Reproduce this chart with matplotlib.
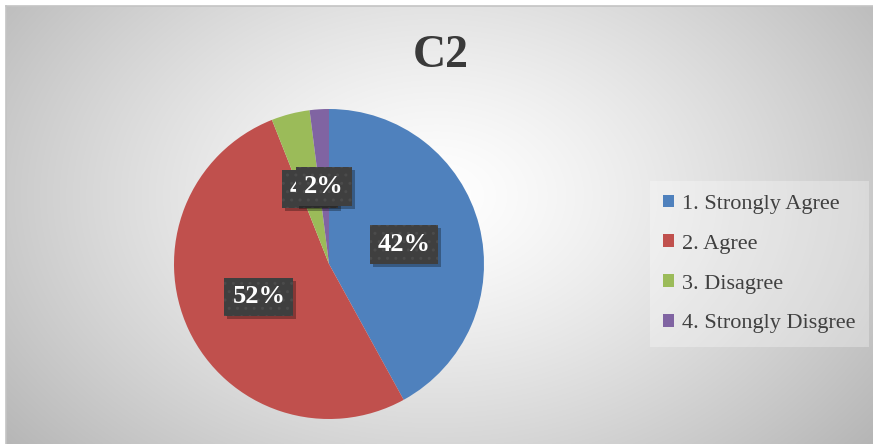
import numpy as np
from matplotlib import pyplot as plt
from matplotlib.patches import Rectangle
from matplotlib.transforms import IdentityTransform

labels = ['1. Strongly Agree', '2. Agree', '3. Disagree', '4. Strongly Disgree']
shares = [42, 52, 4, 2]
pct_labels = ['42%', '52%', '4%', '2%']
colors = ['#4F81BD', '#C0504D', '#9BBB59', '#8064A2']
title = 'C2'

W, H = 873, 444


def make_background(fig):
    bg = fig.add_axes([6 / W, 0, 1 - 6 / W, 1 - 6 / H], zorder=0)
    yy, xx = np.mgrid[0:438, 0:867]
    cx, cy = 430, 190
    d = np.sqrt(((xx - cx) / 470.0) ** 2 + ((yy - cy) / 330.0) ** 2)
    shade = 1.0 - 0.23 * np.clip(d, 0, 1.2) ** 1.3
    shade = np.clip(shade, 0, 1)
    img = np.dstack([shade, shade, shade])
    bg.imshow(img, aspect='auto', extent=[0, 1, 0, 1], interpolation='bilinear')
    bg.set_xticks([])
    bg.set_yticks([])
    for side in ['right', 'bottom']:
        bg.spines[side].set_visible(False)
    for side in ['left', 'top']:
        bg.spines[side].set_color('#c4c4c4')
        bg.spines[side].set_linewidth(1.2)


def main():
    fig = plt.figure(figsize=(W / 100, H / 100), dpi=100)
    fig.patch.set_facecolor('white')
    make_background(fig)

    cx, cy, r = 329, 264, 155
    ax = fig.add_axes([(cx - r) / W, (H - cy - r) / H, 2 * r / W, 2 * r / H], zorder=2)
    ax.patch.set_alpha(0)
    wedges, _ = ax.pie(shares, colors=colors, startangle=90, counterclock=False,
                       wedgeprops=dict(linewidth=0))
    ax.set_xlim(-1, 1)
    ax.set_ylim(-1, 1)
    ax.set_aspect('equal')

    # data labels at half radius, like the Excel "center" position
    total = sum(shares)
    start = 90.0
    texts = []
    for i, (share, lab) in enumerate(zip(shares, pct_labels)):
        mid = np.deg2rad(start - share / total * 360 / 2)
        start -= share / total * 360
        x, y = 0.5 * np.cos(mid), 0.5 * np.sin(mid)
        t = ax.text(x, y, lab, ha='center', va='center', fontsize=19, fontweight='bold',
                    family='Liberation Serif', color='white',
                    bbox=dict(boxstyle='square,pad=0.3', facecolor='#3f3f3f',
                              edgecolor='#4b4b4b', linewidth=0, hatch='..'),
                    zorder=4 + 2 * i)
        texts.append(t)

    # soft drop shadow behind each label box
    fig.canvas.draw()
    for i, t in enumerate(texts):
        ext = t.get_bbox_patch().get_window_extent()
        ax.add_patch(Rectangle((ext.x0 + 3, ext.y0 - 3), ext.width, ext.height,
                               transform=IdentityTransform(), facecolor=(0, 0, 0, 0.3),
                               edgecolor='none', zorder=3 + 2 * i, clip_on=False))

    fig.text(441 / W, 1 - 56 / H, title, ha='center', va='center', fontsize=33,
             fontweight='bold', family='Liberation Serif', color='#3a3a3a')

    leg = fig.legend(wedges, labels, loc='center left', bbox_to_anchor=(650 / W, 1 - 264 / H),
                     prop={'family': 'Liberation Serif', 'size': 16}, frameon=True,
                     fancybox=False, framealpha=0.3, handlelength=0.5, handleheight=0.5,
                     handletextpad=0.35, labelspacing=0.93, borderpad=0.6, borderaxespad=0)
    leg.get_frame().set_facecolor('white')
    leg.get_frame().set_edgecolor('none')
    for t in leg.get_texts():
        t.set_color('#404040')
    leg.set_zorder(5)

    fig.savefig('out.png', dpi=100)


if __name__ == '__main__':
    main()
